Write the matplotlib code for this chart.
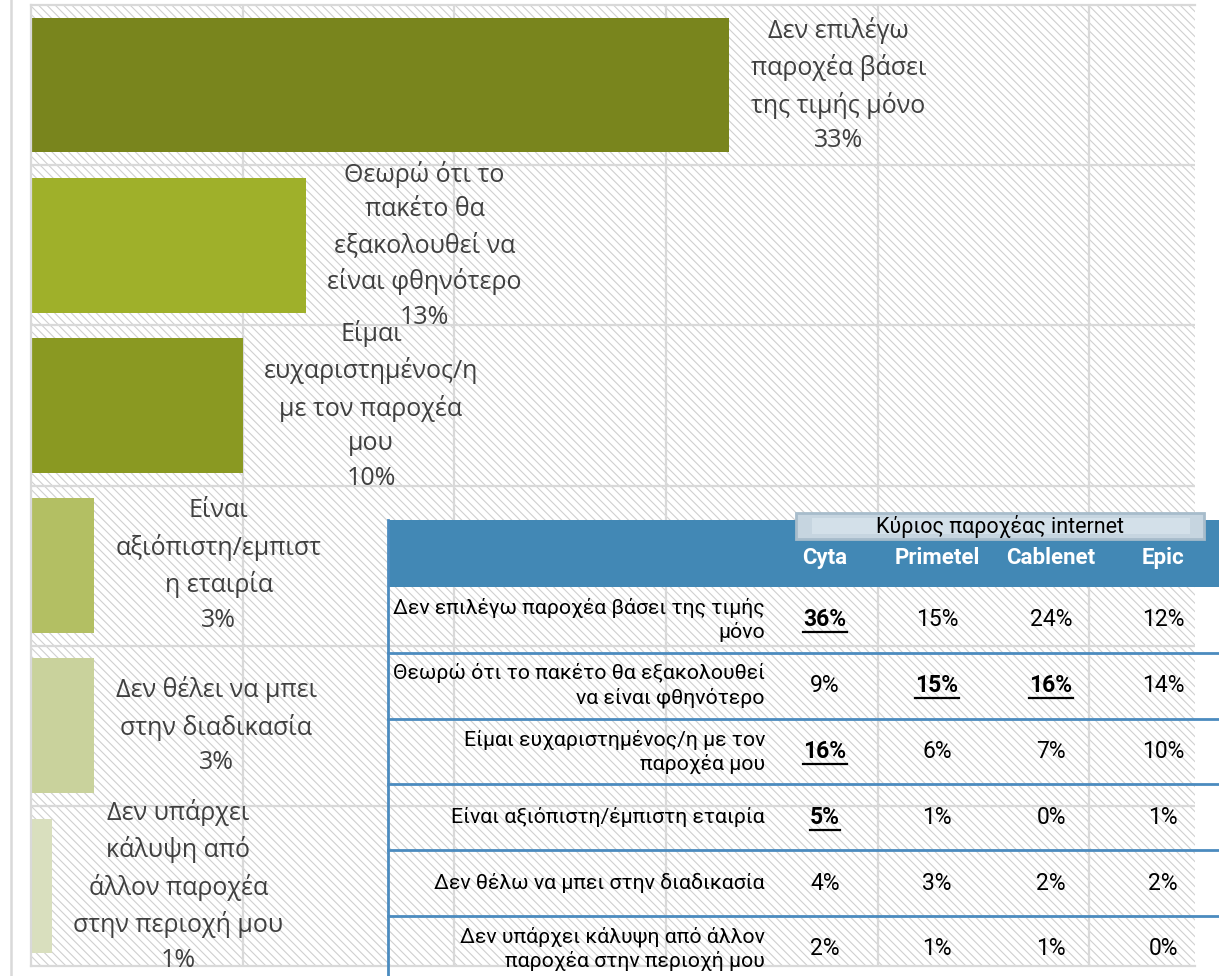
import matplotlib
matplotlib.use("Agg")
import matplotlib.pyplot as plt
from matplotlib.patches import Rectangle, FancyBboxPatch
from matplotlib.lines import Line2D

# bar chart data (top to bottom)
reasons = [
    "Δεν επιλέγω\nπαροχέα βάσει\nτης τιμής μόνο",
    "Θεωρώ ότι το\nπακέτο θα\nεξακολουθεί να\nείναι φθηνότερο",
    "Είμαι\nευχαριστημένος/η\nμε τον παροχέα\nμου",
    "Είναι\nαξιόπιστη/εμπιστ\nη εταιρία",
    "Δεν θέλει να μπει\nστην διαδικασία",
    "Δεν υπάρχει\nκάλυψη από\nάλλον παροχέα\nστην περιοχή μου",
]
shares = [33, 13, 10, 3, 3, 1]
bar_colors = ["#79851d", "#9fb02a", "#8a9922", "#b3bf63", "#c9d29c", "#d9dfbe"]

# table data
providers = ["Cyta", "Primetel", "Cablenet", "Epic"]
row_labels = [
    "Δεν επιλέγω παροχέα βάσει της τιμής\nμόνο",
    "Θεωρώ ότι το πακέτο θα εξακολουθεί\nνα είναι φθηνότερο",
    "Είμαι ευχαριστημένος/η με τον\nπαροχέα μου",
    "Είναι αξιόπιστη/έμπιστη εταιρία",
    "Δεν θέλω να μπει στην διαδικασία",
    "Δεν υπάρχει κάλυψη από άλλον\nπαροχέα στην περιοχή μου",
]
cyta = [36, 9, 16, 5, 4, 2]
primetel = [15, 15, 6, 1, 3, 1]
cablenet = [24, 16, 7, 0, 2, 1]
epic = [12, 14, 10, 1, 2, 0]
highlight = [(0, 0), (1, 1), (1, 2), (2, 0), (3, 0)]  # (row, col) bold+underlined

W, H = 1219, 976
fig = plt.figure(figsize=(W / 100, H / 100), dpi=100)
fig.patch.set_facecolor("white")

grid_c = "#d9d9d9"
plt.rcParams["hatch.linewidth"] = 0.8
ax = fig.add_axes([31 / W, 10 / H, 1164 / W, 961 / H])
ax.set_facecolor("white")
# diagonal hatch over the plot area
ax.add_patch(Rectangle((0, 0), 1, 1, transform=ax.transAxes, facecolor="white",
                       edgecolor="#d0d0d0", hatch="\\\\\\\\", lw=0, zorder=0))

ypos = list(range(len(shares)))
ax.barh(ypos, shares, height=0.84, color=bar_colors, zorder=2)
ax.set_xlim(0, 55)
ax.set_ylim(len(shares) - 0.5, -0.5)
ax.set_xticks([10, 20, 30, 40, 50])
ax.set_yticks([i + 0.5 for i in range(len(shares) - 1)])
ax.tick_params(length=0, labelbottom=False, labelleft=False)
ax.grid(True, color=grid_c, lw=1.6, zorder=1)
ax.set_axisbelow(True)
for s in ["top", "bottom", "left"]:
    ax.spines[s].set_color(grid_c)
    ax.spines[s].set_linewidth(1.6)
ax.spines["right"].set_visible(False)

for y, v, lab in zip(ypos, shares, reasons):
    ax.text(v + 1.0, y, f"{lab}\n{v}%", ha="left", va="center", multialignment="center",
            fontsize=18, family="Open Sans", color="#404040", linespacing=1.5, zorder=3)

# outer frame line on the left
fig.add_artist(Line2D([11 / W, 11 / W], [0, 1], color=grid_c, lw=1.8))

# ---- table overlay, pixel coordinates ----
tx = fig.add_axes([0, 0, 1, 1], zorder=5)
tx.set_xlim(0, W)
tx.set_ylim(H, 0)
tx.axis("off")
tx.patch.set_alpha(0)

blue = "#4288b5"
line_blue = "#4b8bbf"
left, top, head_bot = 388, 520, 587
row_h = 65.8
tx.add_patch(Rectangle((left, top), W - left, head_bot - top, facecolor=blue, lw=0))
tx.add_patch(FancyBboxPatch((796, 513), 408, 26, boxstyle="square,pad=0",
                            facecolor="#c6d5e0", edgecolor="#a7bccb", lw=2))
tx.add_patch(Rectangle((812, 518), 378, 16, facecolor="#d3e0e9", lw=0))
tx.text(1000, 526, "Κύριος παροχέας internet", ha="center", va="center",
        fontsize=15.5, family="Roboto", color="black")

col_x = [825, 937, 1051, 1163]
for x, p in zip(col_x, providers):
    tx.text(x, 558, p, ha="center", va="center", fontsize=16, family="Roboto",
            fontweight="bold", color="white")

tx.plot([left, left], [top, H], color=line_blue, lw=2)
columns = [cyta, primetel, cablenet, epic]
underlined = []
for i, lab in enumerate(row_labels):
    y0 = head_bot + i * row_h
    yc = y0 + row_h / 2
    if i > 0:
        tx.plot([left, W], [y0, y0], color=line_blue, lw=2)
    tx.text(765, yc, lab, ha="right", va="center", multialignment="right",
            fontsize=15.3, family="Roboto", color="black", linespacing=1.25)
    for j, (x, col) in enumerate(zip(col_x, columns)):
        bold = (i, j) in highlight
        t = tx.text(x, yc, f"{col[i]}%", ha="center", va="center", fontsize=16.5,
                    family="Roboto", color="black",
                    fontweight="bold" if bold else "normal")
        if bold:
            underlined.append(t)

fig.canvas.draw()
inv = tx.transData.inverted()
for t in underlined:
    bb = t.get_window_extent()
    (x0, y0), (x1, y1) = inv.transform([(bb.x0, bb.y0), (bb.x1, bb.y1)])
    tx.plot([x0, x1], [y0 + 1, y0 + 1], color="black", lw=1.6)

fig.savefig("out.png", dpi=100)
